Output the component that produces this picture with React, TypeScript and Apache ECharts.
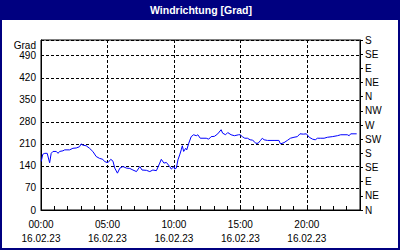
import React, { useEffect, useRef } from "react";
import * as echarts from "echarts";

const TITLE = "Windrichtung [Grad]";
const DATE_LABEL = "16.02.23";
const LEFT_UNIT = "Grad";
const DIRECTIONS = ["N", "NE", "E", "SE", "S", "SW", "W", "NW", "N", "NE", "E", "SE", "S"];

// minutes since 00:00 on 16.02.23
const minutes = [
  1, 8, 17, 28, 39, 46, 54, 69, 77, 84, 99, 107, 129, 144, 159, 174, 181, 189, 204, 219,
  234, 249, 264, 279, 287, 298, 303, 315, 325, 333, 345, 356, 370, 386, 401, 415, 431, 446, 456, 476,
  491, 505, 521, 536, 543, 555, 566, 581, 588, 600, 603, 611, 618, 626, 633, 638, 644, 653, 658, 667,
  678, 689, 701, 708, 719, 746, 757, 768, 783, 798, 813, 820, 833, 843, 858, 873, 892, 899, 909, 920,
  932, 944, 954, 962, 969, 980, 991, 999, 1007, 1022, 1052, 1074, 1081, 1097, 1112, 1126, 1142, 1157, 1169, 1184,
  1198, 1211, 1226, 1238, 1248, 1263, 1278, 1293, 1315, 1338, 1353, 1383, 1391, 1398, 1425,
];
// wind direction in degrees
const degrees = [
  154, 177, 180, 180, 150, 180, 186, 186, 180, 186, 188, 191, 191, 196, 197, 201, 210, 206, 204, 196,
  186, 170, 164, 161, 154, 151, 151, 161, 155, 133, 117, 133, 138, 133, 132, 127, 122, 138, 127, 126,
  122, 127, 125, 149, 161, 149, 151, 138, 130, 138, 130, 133, 159, 175, 191, 204, 186, 196, 191, 212,
  233, 239, 236, 239, 228, 228, 225, 233, 234, 242, 255, 244, 239, 246, 239, 236, 239, 239, 233, 228,
  228, 223, 222, 218, 212, 212, 221, 228, 223, 221, 221, 221, 210, 214, 221, 228, 231, 233, 242, 241,
  242, 231, 225, 223, 228, 228, 228, 231, 233, 236, 239, 239, 236, 242, 242,
];

const FONT = "Liberation Sans";

export default function App() {
  const ref = useRef<HTMLDivElement>(null);
  useEffect(() => {
    document.body.style.margin = "0";
    if (!ref.current) return;
    const chart = echarts.init(ref.current, null, { renderer: "svg" });
    const pad = (n: number) => (n < 10 ? "0" + n : "" + n);
    chart.setOption({
      animation: false,
      backgroundColor: "#ffffff",
      textStyle: { fontFamily: FONT },
      graphic: [
        { type: "rect", shape: { x: 0, y: 0, width: 400, height: 20 }, style: { fill: "#000080" } },
        { type: "rect", shape: { x: 0, y: 0, width: 2, height: 250 }, style: { fill: "#000080" } },
        { type: "rect", shape: { x: 398, y: 0, width: 2, height: 250 }, style: { fill: "#000080" } },
        { type: "rect", shape: { x: 0, y: 248, width: 400, height: 2 }, style: { fill: "#000080" } },
        {
          type: "text",
          x: 201,
          y: 10,
          style: {
            text: TITLE,
            fill: "#ffffff",
            font: `bold 10.5px "${FONT}"`,
            textAlign: "center",
            textVerticalAlign: "middle",
          },
        },
        {
          type: "text",
          x: 36,
          y: 45,
          style: {
            text: LEFT_UNIT,
            fill: "#000000",
            font: `10px "${FONT}"`,
            textAlign: "right",
            textVerticalAlign: "middle",
          },
        },
      ],
      grid: {
        left: 41,
        top: 40,
        right: 40,
        bottom: 40,
        show: true,
        borderColor: "#000000",
        borderWidth: 1,
        backgroundColor: "#ffffff",
      },
      xAxis: {
        type: "value",
        min: 0,
        max: 1440,
        interval: 300,
        axisLine: { lineStyle: { color: "#000000", width: 1 } },
        axisTick: { show: true, inside: true, length: 4, lineStyle: { color: "#000000" } },
        minorTick: { show: true, splitNumber: 5, length: 4, lineStyle: { color: "#000000" } },
        splitLine: { show: true, lineStyle: { color: "#000000", type: [3, 2], width: 1 } },
        axisLabel: {
          color: "#000000",
          fontSize: 10,
          fontFamily: FONT,
          lineHeight: 14,
          margin: 7,
          showMaxLabel: false,
          formatter: (v: number) => `${pad(Math.floor(v / 60))}:${pad(v % 60)}\n${DATE_LABEL}`,
        },
      },
      yAxis: [
        {
          type: "value",
          min: 0,
          max: 540,
          interval: 70,
          axisLine: { show: true, lineStyle: { color: "#000000" } },
          axisTick: { show: false },
          splitLine: { show: true, lineStyle: { color: "#000000", type: [3, 2], width: 1 } },
          axisLabel: {
            color: "#000000",
            fontSize: 10,
            fontFamily: FONT,
            margin: 5,
            showMaxLabel: false,
          },
        },
        {
          type: "value",
          position: "right",
          min: 0,
          max: 540,
          interval: 45,
          axisLine: { show: true, lineStyle: { color: "#000000" } },
          axisTick: { show: true, inside: false, length: 3, lineStyle: { color: "#000000" } },
          splitLine: { show: false },
          axisLabel: {
            color: "#000000",
            fontSize: 10,
            fontFamily: FONT,
            margin: 5,
            formatter: (v: number) => DIRECTIONS[Math.round(v / 45)] ?? "",
          },
        },
      ],
      series: [
        {
          type: "line",
          yAxisIndex: 0,
          data: minutes.map((m, i) => [m, degrees[i]]),
          showSymbol: false,
          symbol: "none",
          lineStyle: { color: "#0000ff", width: 1 },
          z: 3,
        },
      ],
    });
    return () => chart.dispose();
  }, []);
  return <div ref={ref} style={{ width: 400, height: 250 }} />;
}
